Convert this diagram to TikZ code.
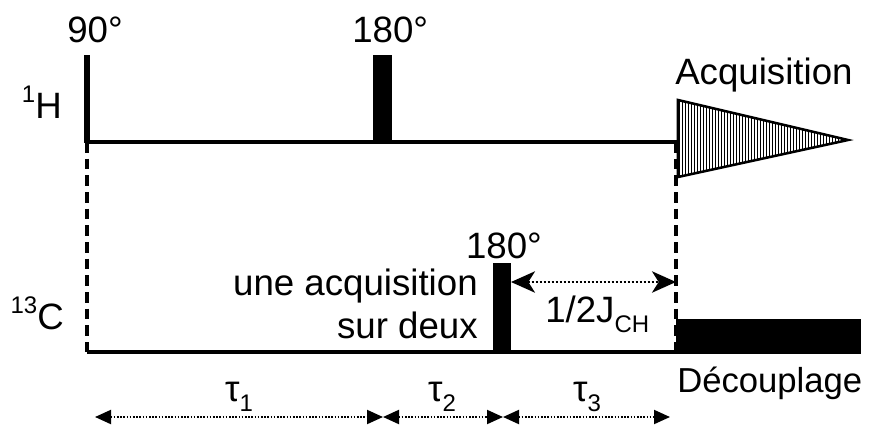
\documentclass[tikz,border=0pt]{standalone}
\usepackage{fontspec}
\setmainfont{Liberation Sans}
\usetikzlibrary{arrows.meta}
\newcommand{\mysub}[1]{\raisebox{-0.28em}{\fontsize{18}{20}\selectfont #1}}
\newcommand{\mysup}[1]{\raisebox{0.42em}{\fontsize{18}{20}\selectfont #1}}
\begin{document}
\begin{tikzpicture}[x=0.75pt,y=-0.75pt,
  lbl/.style={font=\fontsize{27.5}{30}\selectfont, inner sep=0pt},
  base/.style={line width=2.6pt},
  dashv/.style={line width=2.6pt, dash pattern=on 8pt off 4.5pt},
  pulse/.style={fill=black},
  dotarrow/.style={line width=1.5pt, dash pattern=on 1.2pt off 1.2pt,
    {Triangle[length=12pt,width=10.5pt]}-{Triangle[length=12pt,width=10.5pt]}},
  jarrow/.style={line width=1.8pt, dash pattern=on 1.5pt off 1.5pt,
    {Stealth[length=18pt,width=16pt,inset=5pt]}-{Stealth[length=18pt,width=16pt,inset=5pt]}}]
\useasboundingbox (0,0) rectangle (870,425);

% coordinates
\coordinate (hL) at (87,142);
\coordinate (hR) at (678,142);
\coordinate (cL) at (87,352);
\coordinate (cR) at (676,352);
\coordinate (dTop) at (676,142);
\coordinate (jL) at (511,282);
\coordinate (jR) at (676,282);
\coordinate (t0) at (95,417);
\coordinate (t1) at (383,417);
\coordinate (t2) at (503,417);
\coordinate (t3) at (670,417);

% dashed verticals
\draw[dashv] (hL) -- (cL);
\draw[dashv] (dTop) -- (cR);

% baselines
\draw[base] (hL) -- (hR);
\draw[base] (cL) -- (cR);

% 1H pulses
\fill[pulse] (84,55) rectangle (90,143);
\fill[pulse] (373,55) rectangle (392,143);

% 13C pulse
\fill[pulse] (493,263) rectangle (511,353);

% decoupling block
\fill[pulse] (676,319) rectangle (861,353.5);

% acquisition triangle
\begin{scope}
  \clip (678,100) -- (848,140) -- (678,177) -- cycle;
  \foreach \xx in {679,682,...,850} {
    \draw[line width=0.6pt] (\xx,95) -- (\xx,182);
  }
\end{scope}
\draw[line width=1.9pt, line join=miter] (678,100) -- (848,140) -- (678,177) -- cycle;

% labels
\node[lbl, anchor=base west] (n90) at (67,42) {90°};
\node[lbl, anchor=base west] (n180h) at (352,42) {180°};
\node[lbl, anchor=base west] (acq) at (675,84) {Acquisition};
\node[lbl, anchor=base east] (H) at (62,118) {\mysup{1}H};
\node[lbl, anchor=base east] (C) at (64,329) {\mysup{13}C};
\node[lbl, anchor=base] (n180c) at (504,258) {180°};
\node[lbl, anchor=base east] (une) at (478,295) {une acquisition};
\node[lbl, anchor=base east] (sur) at (478,338) {sur deux};
\node[lbl, anchor=base west] (J) at (545,322) {1/2J\mysub{CH}};
\node[lbl, anchor=base west, font=\fontsize{26}{30}\selectfont] (dec) at (677,392) {Découplage};

% arrows
\draw[jarrow] (jL) -- (jR);
\draw[dotarrow] (t0) -- (t1);
\draw[dotarrow] (t1) -- (t2);
\draw[dotarrow] (t2) -- (t3);

\node[lbl, anchor=base] (tau1) at (239,401) {τ\mysub{1}};
\node[lbl, anchor=base] (tau2) at (442,401) {τ\mysub{2}};
\node[lbl, anchor=base] (tau3) at (587,401) {τ\mysub{3}};
\end{tikzpicture}
\end{document}
